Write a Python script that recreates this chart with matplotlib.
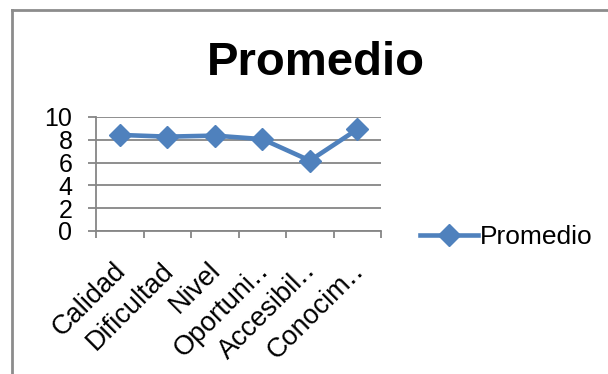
import matplotlib
matplotlib.use('Agg')
import matplotlib.pyplot as plt
import matplotlib.transforms as mtransforms
from matplotlib.lines import Line2D

# Data
categories = ['Calidad', 'Dificultad', 'Nivel', 'Oportuni\u2025', 'Accesibil\u2025', 'Conocim\u2025']
promedio = [8.42, 8.27, 8.36, 8.05, 6.17, 8.92]
yticks = [0, 2, 4, 6, 8, 10]

plt.rcParams['font.family'] = ['Liberation Sans', 'DejaVu Sans']

blue = '#4F81BD'
grid_gray = '#868686'

fig = plt.figure(figsize=(6.08, 3.74), dpi=100)
ax = fig.add_axes([0.158, 0.3824, 0.469, 0.305])

x = list(range(len(categories)))
ax.plot(x, promedio, color=blue, linewidth=3.3, marker='D', markersize=11,
        label='Promedio', solid_joinstyle='miter')

ax.set_xlim(-0.5, len(categories) - 0.5)
ax.set_ylim(0, 10)
ax.set_yticks(yticks)
ax.set_yticklabels([str(v) for v in yticks], fontsize=18)
ax.yaxis.grid(True, color=grid_gray, linewidth=1.3)
ax.set_axisbelow(True)

# category labels at centers, tick marks at the boundaries
ax.set_xticks(x)
ax.set_xticklabels(categories, fontsize=19.5, rotation=45, ha='right',
                   rotation_mode='anchor')
ax.tick_params(axis='x', which='major', length=0, pad=19)
shift = mtransforms.ScaledTranslation(-7 / 100, 0, fig.dpi_scale_trans)
for lbl in ax.get_xticklabels():
    lbl.set_transform(lbl.get_transform() + shift)
ax.set_xticks([i - 0.5 for i in range(len(categories) + 1)], minor=True)
ax.tick_params(axis='x', which='minor', length=5, width=1.3, color=grid_gray)
ax.tick_params(axis='y', length=6, width=1.3, color=grid_gray, pad=11)

for s in ['top', 'right']:
    ax.spines[s].set_visible(False)
for s in ['left', 'bottom']:
    ax.spines[s].set_color(grid_gray)
    ax.spines[s].set_linewidth(1.3)

fig.text(0.52, 0.80, 'Promedio', fontsize=34, fontweight='bold',
         ha='center', va='baseline')

fig.legend(loc='center left', bbox_to_anchor=(0.69, 0.366), frameon=False,
           fontsize=19, handlelength=2.2, handletextpad=0.1, borderpad=0,
           borderaxespad=0)

# chart border (left and top only visible)
fig.add_artist(Line2D([0.02, 0.02], [0.0, 0.973], transform=fig.transFigure,
                      color='#8c8c8c', linewidth=2))
fig.add_artist(Line2D([0.02, 1.0], [0.973, 0.973], transform=fig.transFigure,
                      color='#8c8c8c', linewidth=2))

fig.savefig('out.png', dpi=100)
